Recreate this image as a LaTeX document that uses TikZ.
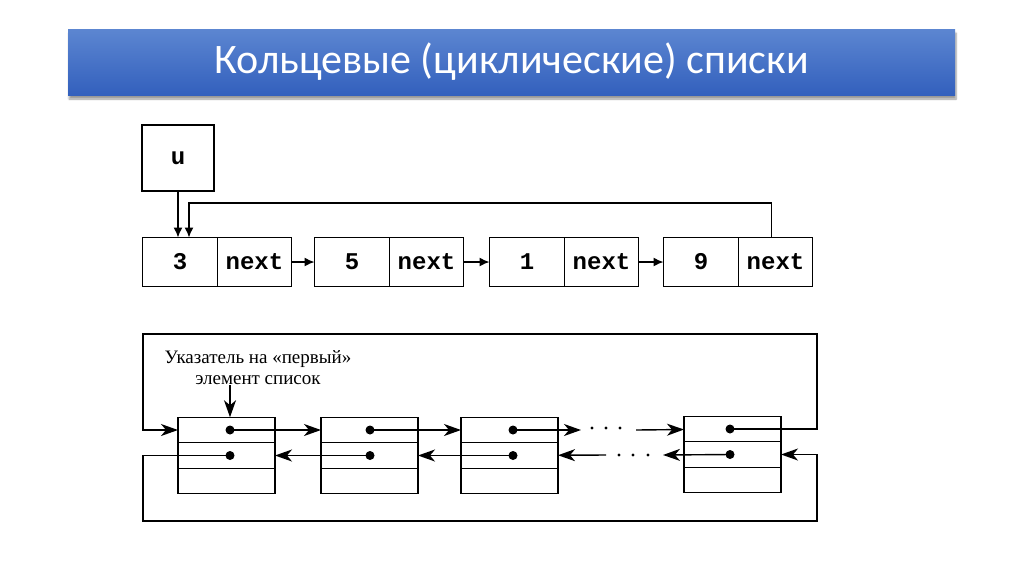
\documentclass[tikz,border=0pt]{standalone}
\usepackage{fontspec}
\setmainfont{Liberation Serif}
\newfontfamily\titlefont{Carlito}
\newfontfamily\codefont{Liberation Mono}
\usepackage{tikz}
\usetikzlibrary{positioning, arrows.meta, shadows.blur}
\definecolor{slideBlueTop}{HTML}{5C86D1}
\definecolor{slideBlueBot}{HTML}{3360BD}

\begin{document}
\begin{tikzpicture}[
  x=1pt, y=-1pt,
  every node/.style={inner sep=0pt, outer sep=0pt},
  titlebar/.style={
    minimum width=887pt, minimum height=66pt,
    top color=slideBlueTop, bottom color=slideBlueBot,
    blur shadow={shadow xshift=1pt, shadow yshift=-4pt, shadow blur steps=6},
    text=white, font=\titlefont\fontsize{42}{50}\selectfont
  },
  valbox/.style={
    draw, line width=1.2pt, minimum width=75pt, minimum height=49pt,
    font=\codefont\bfseries\fontsize{24}{28}\selectfont
  },
  nextbox/.style={valbox, minimum width=74pt},
  link/.style={-{Latex[length=10pt, width=9pt]}, line width=1.4pt},
  cell/.style={draw, line width=1.1pt, minimum width=97pt, minimum height=25.5pt},
  fwd/.style={-{Stealth[length=17pt, width=12pt, inset=5pt]}, line width=1.4pt},
]
\useasboundingbox (0,0) rectangle (1024,574);

% Title
\node[titlebar] (title) at (511.5,62) {Кольцевые (циклические) списки};

% Singly linked ring
\node[valbox, minimum width=72pt, minimum height=66pt] (u) at (178,158) {u};
\node[valbox] (v3) at (180,262) {3};
\node[nextbox, right=0pt of v3] (n3) {next};
\node[valbox] (v5) at (352,262) {5};
\node[nextbox, right=0pt of v5] (n5) {next};
\node[valbox] (v1) at (527,262) {1};
\node[nextbox, right=0pt of v1] (n1) {next};
\node[valbox] (v9) at (701,262) {9};
\node[nextbox, right=0pt of v9] (n9) {next};

\draw[link] (u.south) -- (u.south |- v3.north);
\draw[link] (n3) -- (v5);
\draw[link] (n5) -- (v1);
\draw[link] (n1) -- (v9);
\coordinate (back) at (189,203);
\draw[link] ([xshift=-4pt]n9.north) |- (back) -- (back |- v3.north);

% Doubly linked ring
\node[cell] (a1) at (226.5,430) {};
\node[cell, below=0pt of a1] (b1) {};
\node[cell, below=0pt of b1] (c1) {};
\node[cell] (a2) at (369.5,430) {};
\node[cell, below=0pt of a2] (b2) {};
\node[cell, below=0pt of b2] (c2) {};
\node[cell] (a3) at (509.5,430) {};
\node[cell, below=0pt of a3] (b3) {};
\node[cell, below=0pt of b3] (c3) {};
\node[cell] (a4) at (732.5,429) {};
\node[cell, below=0pt of a4] (b4) {};
\node[cell, below=0pt of b4] (c4) {};

\coordinate (f1) at ([xshift=3.5pt]a1.center);
\coordinate (r1) at ([xshift=3.5pt]b1.center);
\coordinate (f2) at ([xshift=0.5pt]a2.center);
\coordinate (r2) at ([xshift=0.5pt]b2.center);
\coordinate (f3) at ([xshift=3.5pt]a3.center);
\coordinate (r3) at ([xshift=3.5pt]b3.center);
\coordinate (f4) at ([xshift=-2.5pt]a4.center);
\coordinate (r4) at ([xshift=-2.5pt]b4.center);

\node[align=center, font=\fontsize{19}{21}\selectfont] (first) at (258,368)
  {Указатель на «первый»\\элемент список};
\draw[fwd] (first.south -| f1) -- (a1.north -| f1);

% forward pointers
\draw[fwd] (f1) -- (a2);
\draw[fwd] (f2) -- (a3);
\coordinate (gapA) at (581,430);
\coordinate (gapB) at (636,430);
\draw[fwd] (f3) -- (gapA);
\draw[fwd] (gapB) -- (a4);
\foreach \x in {592,606,620} \fill (\x,428) circle (1.6);

% backward pointers
\draw[fwd] (r2) -- (b1);
\draw[fwd] (r3) -- (b2);
\coordinate (gapC) at (606,455);
\coordinate (gapD) at (663,455);
\draw[fwd] (gapC) -- (b3);
\draw[fwd] (r4) -- (gapD);
\foreach \x in {619,633,648} \fill (\x,455) circle (1.6);

% closing the ring
\coordinate (cornerNE) at (817,334);
\coordinate (cornerNW) at (143,334);
\coordinate (cornerSW) at (143,521);
\coordinate (cornerSE) at (817,521);
\draw[fwd] (f4) -- (f4 -| cornerNE) -- (cornerNE) -- (cornerNW) -- (cornerNW |- a1) -- (a1);
\draw[fwd] (r1) -- (r1 -| cornerSW) -- (cornerSW) -- (cornerSE) -- (cornerSE |- b4) -- (b4);

\foreach \p in {f1,r1,f2,r2,f3,r3,f4,r4} \fill (\p) circle (4.5);

\end{tikzpicture}
\end{document}
